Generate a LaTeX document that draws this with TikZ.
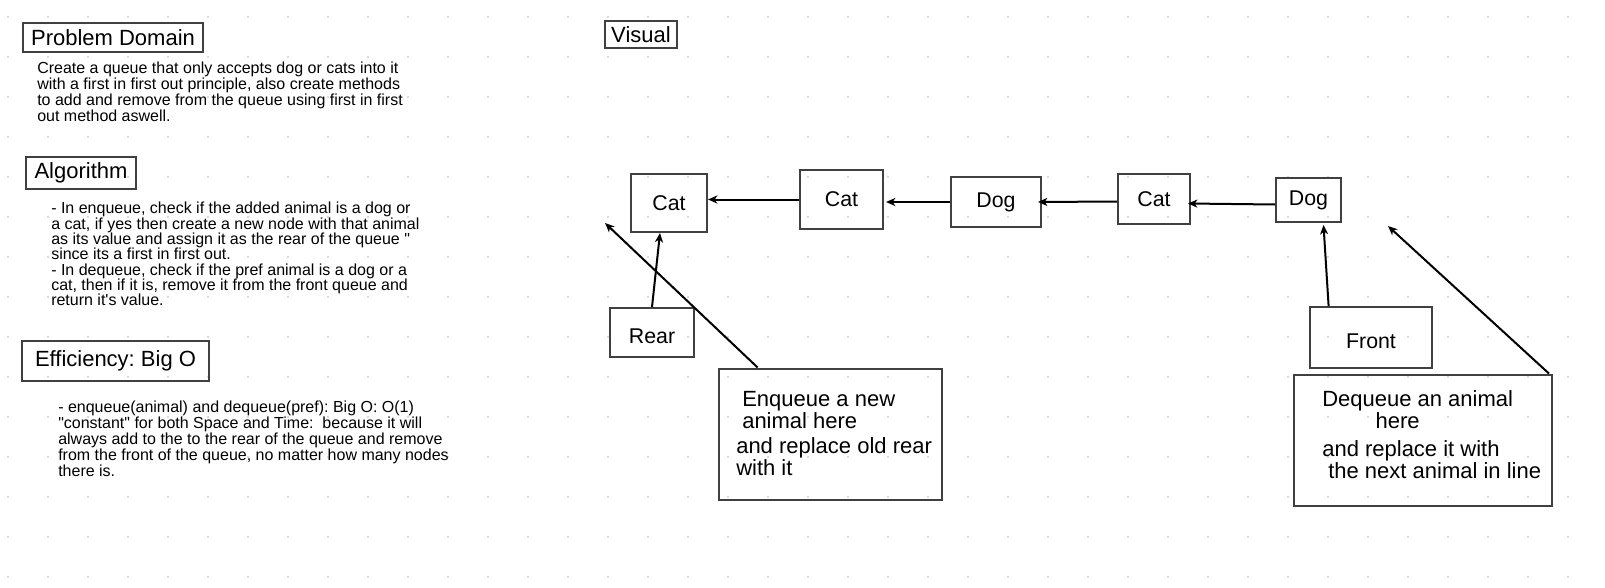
\documentclass[tikz,border=0pt]{standalone}
\usepackage{fontspec}
\newfontfamily\lsans{Liberation Sans}
\usetikzlibrary{arrows.meta,fit,calc}
\frenchspacing
\definecolor{boxgray}{RGB}{64,64,64}
\definecolor{dotgray}{RGB}{205,205,205}
\tikzset{
  box/.style={draw=boxgray, line width=1.5pt, inner sep=0pt, font=\lsans\fontsize{16}{16}\selectfont},
  titlebox/.style={box, font=\lsans\fontsize{16.5}{16.5}\selectfont},
  lowtext/.style={text height=16pt, text depth=0pt},
  callout/.style={draw=boxgray, line width=1.5pt, inner sep=0pt},
  bodytext/.style={inner sep=0pt, anchor=base west, align=left, font=\lsans\fontsize{12}{12}\selectfont},
  calltext/.style={inner sep=0pt, anchor=base west, align=left, font=\lsans\fontsize{16.5}{16.2}\selectfont},
  arr/.style={-{Stealth[length=7pt,width=6pt,inset=2pt]}, line width=1.5pt, black},
}
\begin{document}
\begin{tikzpicture}[x=0.75pt, y=-0.75pt]
\useasboundingbox[fill=white] (0,0) rectangle (1605,588);
% dot grid
\foreach \i in {0,...,39}{
  \foreach \j in {0,...,14}{
    \fill[dotgray] (8+40*\i, 17+40*\j) circle[radius=0.85pt];
  }
}
% left column
\node[titlebox, minimum width=135pt, minimum height=21.75pt] (pd) at (113,37.5) {Problem Domain};
\node[bodytext] (pdtext) at (37,122) {Create a queue that only accepts dog or cats into it\\with a first in first out principle, also create methods\\to add and remove from the queue using first in first\\out method aswell.};
\node[titlebox, minimum width=82.5pt, minimum height=24pt] (algo) at (81,173) {Algorithm};
\node[bodytext, font=\lsans\fontsize{12}{11.5}\selectfont] (algotext) at (51,305.7) {- In enqueue, check if the added animal is a dog or\\a cat, if yes then create a new node with that animal\\as its value and assign it as the rear of the queue "\\since its a first in first out.\\- In dequeue, check if the pref animal is a dog or a\\cat, then if it is, remove it from the front queue and\\return it's value.};
\node[titlebox, minimum width=140.25pt, minimum height=30pt] (eff) at (115.5,361) {Efficiency: Big O};
\node[bodytext] (efftext) at (58,476.7) {- enqueue(animal) and dequeue(pref): Big O: O(1)\\"constant" for both Space and Time:\ \ because it will\\always add to the to the rear of the queue and remove\\from the front of the queue, no matter how many nodes\\there is.};
% visual
\node[titlebox, minimum width=54pt, minimum height=20.25pt] (visual) at (641,34.5) {Visual};
\node[box, minimum width=57pt, minimum height=43.5pt] (cat1) at (669,203) {Cat};
\node[box, minimum width=62.25pt, minimum height=44.25pt] (cat2) at (841.5,199.5) {Cat};
\node[box, minimum width=67.5pt, minimum height=37.5pt] (dog1) at (996,202) {Dog};
\node[box, minimum width=54pt, minimum height=37.5pt] (cat3) at (1154,199) {Cat};
\node[box, minimum width=48.75pt, minimum height=33pt] (dog2) at (1308.5,200) {Dog};
\node[box, lowtext, minimum width=63pt, minimum height=36.75pt] (rear) at (652,332.5) {Rear};
\node[box, lowtext, minimum width=91.5pt, minimum height=45.75pt] (front) at (1371,337.5) {Front};
\node[callout, fit={(718.6,368.5) (941.7,499.5)}] (enq) {};
\node[callout, fit={(1294,374.6) (1552,505.7)}] (deq) {};
\node[calltext] (enqa) at (742,428.3) {Enqueue a new\\animal here};
\node[calltext] (enqb) at (736,475) {and replace old rear\\with it};
\node[calltext] (deqa) at (1322,428.3) {Dequeue an animal\\\hspace*{40pt}here};
\node[calltext] (deqb) at (1322,478.3) {and replace it with\\\hspace*{4.5pt}the next animal in line};
\coordinate (enqtip) at (605,223);
\coordinate (deqtip) at (1388,226);
% connectors
\draw[arr] (cat2.west) -- (cat1.east |- cat2.west);
\draw[arr] (dog1.west) -- ($(cat2.east |- dog1.west)+(2,0)$);
\draw[arr] ($(cat3.west)+(0,2.5)$) -- ($(dog1.east)+(-4,0)$);
\draw[arr] ($(dog2.west)+(0,4.5)$) -- ($(cat3.east)+(-3,4.5)$);
\draw[arr] (rear.north) -- ($(cat1.south)+(-9,0)$);
\draw[arr] ($(front.north west)+(19.6,0)$) -- ($(dog2.south)+(15,2)$);
\draw[arr] ($(enq.north west)+(40,0)$) -- (enqtip);
\draw[arr] ($(deq.north east)+(-4,0)$) -- (deqtip);
\end{tikzpicture}
\end{document}
